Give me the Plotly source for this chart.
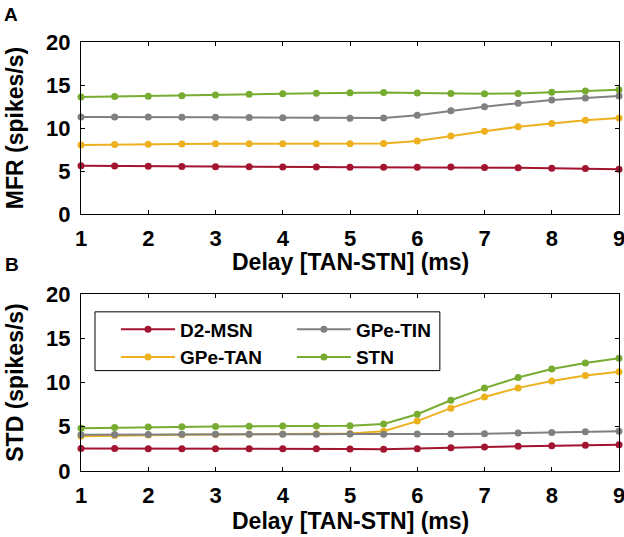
import plotly.graph_objects as go

# delay between TAN and STN (ms)
delay = [1, 1.5, 2, 2.5, 3, 3.5, 4, 4.5, 5, 5.5, 6, 6.5, 7, 7.5, 8, 8.5, 9]

# panel A - mean firing rate (spikes/s)
d2_msn_mfr = [5.60, 5.57, 5.55, 5.53, 5.51, 5.49, 5.47, 5.46, 5.45, 5.45, 5.45, 5.46, 5.42, 5.39, 5.32, 5.28, 5.20]
gpe_tan_mfr = [8.02, 8.08, 8.12, 8.15, 8.17, 8.18, 8.18, 8.17, 8.17, 8.20, 8.48, 9.07, 9.63, 10.14, 10.52, 10.89, 11.15]
gpe_tin_mfr = [11.27, 11.28, 11.27, 11.26, 11.24, 11.22, 11.20, 11.17, 11.13, 11.16, 11.48, 12.01, 12.47, 12.89, 13.26, 13.50, 13.71]
stn_mfr = [13.60, 13.65, 13.70, 13.76, 13.84, 13.92, 13.97, 14.04, 14.10, 14.14, 14.08, 14.00, 13.98, 14.02, 14.15, 14.30, 14.45]

# panel B - standard deviation (spikes/s)
d2_msn_std = [2.55, 2.53, 2.52, 2.52, 2.51, 2.51, 2.50, 2.50, 2.48, 2.47, 2.52, 2.62, 2.72, 2.79, 2.86, 2.91, 2.96]
gpe_tan_std = [3.94, 4.02, 4.06, 4.10, 4.13, 4.16, 4.19, 4.22, 4.25, 4.50, 5.64, 7.10, 8.37, 9.39, 10.16, 10.80, 11.21]
gpe_tin_std = [4.10, 4.12, 4.13, 4.14, 4.14, 4.15, 4.15, 4.16, 4.17, 4.16, 4.17, 4.19, 4.22, 4.28, 4.36, 4.43, 4.50]
stn_std = [4.84, 4.91, 4.97, 5.01, 5.04, 5.06, 5.08, 5.09, 5.11, 5.31, 6.41, 7.99, 9.37, 10.56, 11.52, 12.20, 12.74]

names = ["D2-MSN", "GPe-TAN", "GPe-TIN", "STN"]
colors = ["#A2142F", "#EDB120", "#808080", "#77AC30"]
legends = ["legend", "legend", "legend2", "legend2"]

FONT = "Liberation Sans, Arial, Helvetica, sans-serif"


def bold(size):
    return dict(family=FONT, size=size, color="black", weight="bold")


fig = go.Figure()

# Plot both panels
mfr_series = [d2_msn_mfr, gpe_tan_mfr, gpe_tin_mfr, stn_mfr]
std_series = [d2_msn_std, gpe_tan_std, gpe_tin_std, stn_std]
for name, color, lg, y_mfr, y_std in zip(names, colors, legends, mfr_series, std_series):
    fig.add_trace(go.Scatter(
        x=delay, y=y_mfr, mode="lines+markers", name=name,
        line=dict(color=color, width=2), marker=dict(color=color, size=7),
        xaxis="x", yaxis="y", showlegend=False, cliponaxis=False))
    fig.add_trace(go.Scatter(
        x=delay, y=y_std, mode="lines+markers", name=name,
        line=dict(color=color, width=2), marker=dict(color=color, size=7),
        xaxis="x2", yaxis="y2", legend=lg, cliponaxis=False))

axis_style = dict(
    showline=True, linecolor="black", linewidth=1, mirror="ticks",
    ticks="inside", ticklen=4, tickcolor="black", showgrid=False, zeroline=False,
    ticklabeloverflow="allow", automargin=False,
)

fig.update_layout(
    width=624, height=537,
    margin=dict(l=81, r=5, t=42, b=66),
    paper_bgcolor="white", plot_bgcolor="white",
    xaxis=dict(domain=[0, 1], anchor="y", range=[1, 9], dtick=1, ticklabelstandoff=5,
               tickfont=bold(22), **axis_style),
    yaxis=dict(domain=[0.599, 1], anchor="x", range=[0, 20], dtick=5, ticklabelstandoff=5,
               tickfont=bold(22), title=dict(text="MFR (spikes/s)", font=bold(23), standoff=16),
               **axis_style),
    xaxis2=dict(domain=[0, 1], anchor="y2", range=[1, 9], dtick=1, ticklabelstandoff=5,
                tickfont=bold(22), **axis_style),
    yaxis2=dict(domain=[0, 0.4126], anchor="x2", range=[0, 20], dtick=5, ticklabelstandoff=5,
                tickfont=bold(22), title=dict(text="STD (spikes/s)", font=bold(23), standoff=16),
                **axis_style),
    legend=dict(x=0.065, y=0.3743, xanchor="left", yanchor="top", bgcolor="rgba(0,0,0,0)",
                font=bold(19), itemwidth=54, tracegroupgap=0),
    legend2=dict(x=0.392, y=0.3743, xanchor="left", yanchor="top", bgcolor="rgba(0,0,0,0)",
                 font=bold(19), itemwidth=54, tracegroupgap=0),
    showlegend=True,
)

# x axis titles, placed under each panel
fig.add_annotation(text="Delay [TAN-STN] (ms)", xref="x domain", yref="y domain", x=0.5, y=0,
                   yshift=-48, showarrow=False, xanchor="center", yanchor="middle", font=bold(23))
fig.add_annotation(text="Delay [TAN-STN] (ms)", xref="x2 domain", yref="y2 domain", x=0.5, y=0,
                   yshift=-50, showarrow=False, xanchor="center", yanchor="middle", font=bold(23))

# legend frame around both legend columns
fig.add_shape(type="rect", xref="paper", yref="paper", x0=0.026, x1=0.667, y0=0.234, y1=0.371,
              line=dict(color="black", width=1), fillcolor="rgba(0,0,0,0)")

# panel letters
fig.add_annotation(text="A", xref="paper", yref="paper", x=-0.130, y=1.065, showarrow=False,
                   xanchor="center", yanchor="middle", font=bold(19))
fig.add_annotation(text="B", xref="paper", yref="paper", x=-0.128, y=0.4825, showarrow=False,
                   xanchor="center", yanchor="middle", font=bold(19))

# keep the page exactly the figure size
page_css = ("var s=document.createElement('style');"
            "s.textContent='html,body{margin:0;padding:0;overflow:hidden}';"
            "document.head.appendChild(s);")

fig.write_html("out.html", config={"displayModeBar": False}, post_script=page_css)
